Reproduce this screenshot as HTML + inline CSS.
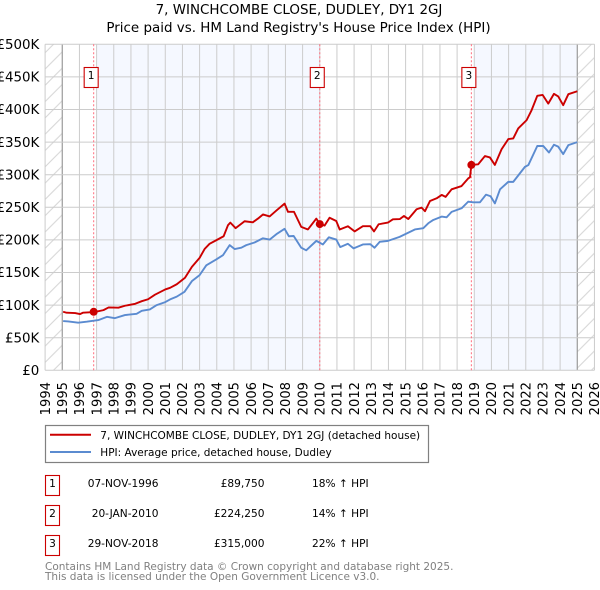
<!DOCTYPE html>
<html lang="en">
<head>
<meta charset="utf-8">
<title>7, WINCHCOMBE CLOSE, DUDLEY, DY1 2GJ</title>
<style>
html,body{margin:0;padding:0;background:#fff;width:600px;height:590px;overflow:hidden}
svg{display:block;font-family:"DejaVu Sans","Liberation Sans",sans-serif}
</style>
</head>
<body>
<svg id="chart" xmlns="http://www.w3.org/2000/svg" width="600" height="590" viewBox="0 0 600 590">
  <defs>
    <pattern id="hatch" patternUnits="userSpaceOnUse" width="16.3" height="16.3">
      <path d="M-1 17.3 L17.3 -1 M-1 1 L1 -1 M15.3 17.3 L17.3 15.3" stroke="#d4d4d4" stroke-width="1" fill="none"/>
    </pattern>
  </defs>
  <text x="299" y="14" text-anchor="middle" font-size="13.45" fill="#000">7, WINCHCOMBE CLOSE, DUDLEY, DY1 2GJ</text>
  <text x="298.5" y="32" text-anchor="middle" font-size="13.45" fill="#000">Price paid vs. HM Land Registry's House Price Index (HPI)</text>
  <g id="plot"></g>

  <g>
    <rect x="45.5" y="425.5" width="383" height="37" fill="#fff" stroke="#808080" stroke-width="1.2"/>
    <line x1="50" x2="91" y1="434.8" y2="434.8" stroke="#cc0000" stroke-width="2"/>
    <text x="100.3" y="439" font-size="10.5" fill="#000">7, WINCHCOMBE CLOSE, DUDLEY, DY1 2GJ (detached house)</text>
    <line x1="50" x2="91" y1="452" y2="452" stroke="#5b8bd0" stroke-width="2"/>
    <text x="100.3" y="456" font-size="10.5" fill="#000">HPI: Average price, detached house, Dudley</text>
  </g>

  <g font-size="10.6" fill="#000">
    <g>
      <rect x="45.5" y="475.5" width="14" height="20" fill="#fff" stroke="#cc0000" stroke-width="1.1"/>
      <text x="52.5" y="487" text-anchor="middle">1</text>
      <text x="158.5" y="487" text-anchor="end">07-NOV-1996</text>
      <text x="264.5" y="487" text-anchor="end">£89,750</text>
      <text x="312" y="487">18% ↑ HPI</text>
    </g>
    <g>
      <rect x="45.5" y="505.5" width="14" height="20" fill="#fff" stroke="#cc0000" stroke-width="1.1"/>
      <text x="52.5" y="517" text-anchor="middle">2</text>
      <text x="158.5" y="517" text-anchor="end">20-JAN-2010</text>
      <text x="264.5" y="517" text-anchor="end">£224,250</text>
      <text x="312" y="517">14% ↑ HPI</text>
    </g>
    <g>
      <rect x="45.5" y="535.5" width="14" height="20" fill="#fff" stroke="#cc0000" stroke-width="1.1"/>
      <text x="52.5" y="547" text-anchor="middle">3</text>
      <text x="158.5" y="547" text-anchor="end">29-NOV-2018</text>
      <text x="264.5" y="547" text-anchor="end">£315,000</text>
      <text x="312" y="547">22% ↑ HPI</text>
    </g>
  </g>

  <text x="45" y="570" font-size="10.5" fill="#808080">Contains HM Land Registry data © Crown copyright and database right 2025.</text>
  <text x="45" y="580" font-size="10.5" fill="#808080">This data is licensed under the Open Government Licence v3.0.</text>
</svg>
<script>
const yearTicks = [1994,1995,1996,1997,1998,1999,2000,2001,2002,2003,2004,2005,2006,2007,2008,2009,2010,2011,2012,2013,2014,2015,2016,2017,2018,2019,2020,2021,2022,2023,2024,2025,2026];
const valueTicks = [0,50,100,150,200,250,300,350,400,450,500];
const valueTickLabels = ["£0","£50K","£100K","£150K","£200K","£250K","£300K","£350K","£400K","£450K","£500K"];
const priceDates = [1995.05,1995.25,1995.75,1996.03,1996.2,1996.87,1997.4,1997.7,1998.27,1998.65,1999.25,1999.63,2000,2000.4,2001,2001.28,2001.67,2002.15,2002.55,2003,2003.29,2003.58,2003.97,2004.4,2004.65,2004.79,2005.1,2005.62,2006.1,2006.4,2006.69,2007.08,2007.47,2007.95,2008.15,2008.5,2008.92,2009.31,2009.8,2010,2010.28,2010.57,2010.96,2011.16,2011.64,2012.03,2012.51,2012.94,2013.16,2013.43,2013.97,2014.26,2014.67,2014.9,2015.16,2015.64,2015.93,2016.13,2016.42,2016.81,2017.1,2017.33,2017.68,2018.26,2018.65,2018.75,2018.83,2019.23,2019.62,2019.91,2020.2,2020.59,2020.98,2021.27,2021.56,2022.05,2022.34,2022.67,2022.98,2023.31,2023.64,2023.89,2024.18,2024.48,2025];
const priceValues = [89.8,88.3,87.8,86.2,88.3,89.3,92.3,96.4,96,99,102,106,109,116,124,126.5,132,142,158.7,172.4,186,194,199.5,205.6,222.4,226.5,218,228.6,227,232.7,239,236,245,255.6,243,243,220,216,232.7,224.25,222,234,229,216,221,213,221,221,213,224,226.5,231.6,232,236.7,232,247,249.5,244,259.7,263.8,269,266,277.6,282.6,294.4,296,315,316,328.6,326.5,315,339,354.6,355.6,371,383.7,399,421,422.4,409,424,420,406.6,423.5,428];
const hpiDates = [1995.05,1995.35,1995.93,1996.42,1997.1,1997.6,1998.07,1998.65,1999.33,1999.63,2000.1,2000.5,2001,2001.28,2001.67,2002.12,2002.55,2003,2003.39,2003.97,2004.36,2004.75,2005.04,2005.43,2005.72,2006.2,2006.69,2007.08,2007.47,2007.95,2008.2,2008.48,2008.92,2009.21,2009.8,2010.18,2010.53,2010.96,2011.19,2011.64,2011.97,2012.51,2012.94,2013.19,2013.49,2013.97,2014.65,2015.54,2016.03,2016.32,2016.61,2017.1,2017.39,2017.68,2018.26,2018.65,2018.94,2019.33,2019.68,2019.95,2020.2,2020.5,2020.98,2021.27,2021.95,2022.15,2022.67,2023.02,2023.35,2023.64,2023.89,2024.18,2024.48,2025];
const hpiValues = [75.5,75,73,74.5,77,82,80,84.7,86.7,91.3,93.4,100,104.6,108.7,113,120.4,136.7,146,161,170,176.5,192,186,188,192,196,202.5,200.5,208.7,217,205.6,206,188,184,198.5,193,204,200.5,189,194,187,193,193.5,188,197,198.5,204.6,216,218,225.5,230.6,235.7,234.7,243,248.5,258.7,257.6,257.6,269.4,267,256,277.6,289,289,312,314.8,344,344,334,346,343,331.6,345.4,350];
const saleNumbers = ["1","2","3"];
const saleDates = [1996.83,2010.0,2018.83];
const salePrices = [89.75,224.25,315];
const bandStarts = [1997,2019];
const bandEnds = [2010,2025];
const dataStart = 1995;
const dataEnd = 2025;

const NS = "http://www.w3.org/2000/svg";
const plot = document.getElementById("plot");
const xAxis = function (year) { return 45.1 + (year - 1994) * 17.167; };
const yAxis = function (k) { return 370.3 - k * 0.652; };
const make = function (tag, attrs, parent) {
  const el = document.createElementNS(NS, tag);
  Object.keys(attrs).forEach(function (k) { el.setAttribute(k, attrs[k]); });
  parent.appendChild(el);
  return el;
};
const xMin = yearTicks[0], xMax = yearTicks[yearTicks.length - 1];
const yMax = valueTicks[valueTicks.length - 1];

bandStarts.forEach(function (s, i) {
  const el = make("rect", {x: xAxis(s), y: yAxis(yMax), width: xAxis(bandEnds[i]) - xAxis(s), height: yAxis(0) - yAxis(yMax), fill: "#f5f8ff"}, plot);
  
  
});
[[xMin, dataStart], [dataEnd, xMax]].forEach(function (r) {
  const el = make("rect", {x: xAxis(r[0]), y: yAxis(yMax), width: xAxis(r[1]) - xAxis(r[0]), height: yAxis(0) - yAxis(yMax), fill: "url(#hatch)"}, plot);
  
  
});
yearTicks.forEach(function (yr) {
  const edge = yr === dataStart || yr === dataEnd;
  const x = xAxis(yr);
  const line = make("line", {x1: x, x2: x, y1: yAxis(0), y2: yAxis(yMax), stroke: edge ? "#9a9a9a" : "#cccccc", "stroke-width": edge ? 1.2 : 1}, plot);
  
  
  const label = make("text", {transform: "translate(" + (x + 4.7) + ",382) rotate(-90)", "text-anchor": "end", "font-size": 13.1, fill: "#000"}, plot);
  
  
  label.textContent = String(yr);
});
valueTicks.forEach(function (v, i) {
  const y = yAxis(v);
  const line = make("line", {x1: xAxis(xMin), x2: xAxis(xMax), y1: y, y2: y, stroke: "#cccccc", "stroke-width": 1}, plot);
  
  
  const label = make("text", {x: 39.3, y: y + 4.7, "text-anchor": "end", "font-size": 13.4, fill: "#000"}, plot);
  
  
  label.textContent = valueTickLabels[i];
});
saleDates.forEach(function (d) {
  const x = xAxis(d);
  const line = make("line", {x1: x, x2: x, y1: yAxis(0), y2: yAxis(yMax), stroke: "#ff6d7e", "stroke-width": 1, "stroke-dasharray": "2 2"}, plot);
  
  
});
const toPath = function (dates, values) {
  return dates.map(function (d, i) { return (i ? "L" : "M") + xAxis(d).toFixed(2) + " " + yAxis(values[i]).toFixed(2); }).join(" ");
};
const hpiLine = make("path", {d: toPath(hpiDates, hpiValues), fill: "none", stroke: "#5b8bd0", "stroke-width": 1.9, "stroke-linejoin": "round"}, plot);


const priceLine = make("path", {d: toPath(priceDates, priceValues), fill: "none", stroke: "#cc0000", "stroke-width": 1.9, "stroke-linejoin": "round"}, plot);


saleDates.forEach(function (d, i) {
  const dot = make("circle", {cx: xAxis(d), cy: yAxis(salePrices[i]), r: 4, fill: "#cc0000"}, plot);
  
  
  const bx = xAxis(d) - 9.5;
  const box = make("rect", {x: bx, y: 67.5, width: 14, height: 20, fill: "#fff", stroke: "#cc0000", "stroke-width": 1.1}, plot);
  
  
  const num = make("text", {x: bx + 7, y: 79, "text-anchor": "middle", "font-size": 10.6, fill: "#000"}, plot);
  
  
  num.textContent = saleNumbers[i];
});
</script>
</body>
</html>
